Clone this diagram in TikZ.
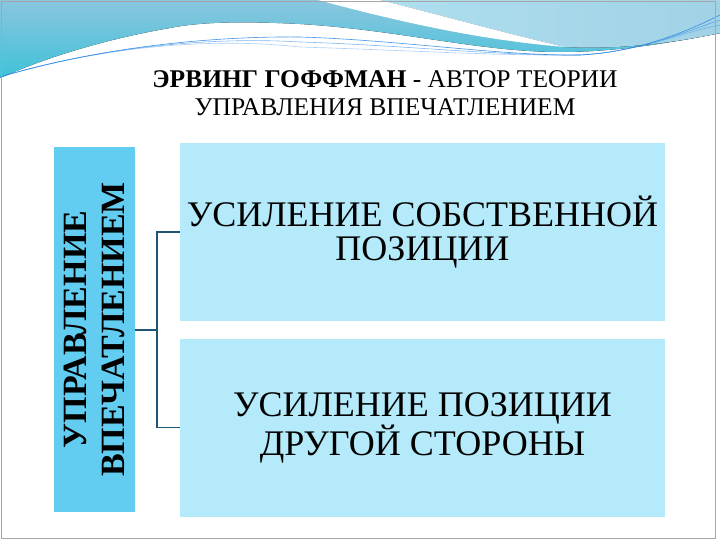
\documentclass[tikz,border=0pt]{standalone}
\usepackage{fontspec}
\setmainfont{Liberation Serif}
\usepackage{tikz}

\definecolor{waveblue}{HTML}{8AC6DF}
\definecolor{wavelight}{HTML}{AEDFEF}
\definecolor{waveteal}{HTML}{3FC2D8}
\definecolor{leftblue}{HTML}{62CDF1}
\definecolor{boxblue}{HTML}{B4EAFA}
\definecolor{linkcol}{HTML}{1F5675}

\tikzset{
    mainbox/.style={fill=boxblue, minimum width=485pt, minimum height=178pt,
        align=center, inner sep=0pt, font=\fontsize{36}{34}\selectfont},
    sidebox/.style={fill=leftblue, minimum width=81pt, minimum height=365pt,
        inner sep=0pt},
    link/.style={draw=linkcol, line width=1.3pt}
}

\begin{document}
\begin{tikzpicture}[x=1pt,y=-1pt]

            \useasboundingbox (0,0) rectangle (720,540);

            % Header waves
            \fill[top color=waveblue, bottom color=waveteal]
                (0,0) -- (720,0) -- (720,33)
                .. controls (660,45) and (610,52) .. (560,52)
                .. controls (480,52) and (400,30) .. (300,24)
                .. controls (240,21) and (200,22) .. (170,28)
                .. controls (100,40) and (40,60) .. (0,78) -- cycle;
            \fill[left color=wavelight, right color=waveblue!80]
                (380,0) -- (720,0) -- (720,33)
                .. controls (680,42) and (620,50) .. (565,47)
                .. controls (500,32) and (440,15) .. (380,0) -- cycle;
            \fill[white]
                (318,0) -- (380,0)
                .. controls (440,15) and (500,32) .. (565,47)
                .. controls (480,40) and (400,22) .. (318,0) -- cycle;
            \foreach \dy/\op in {0/0.9, 5/0.6, 10/0.4} {
                \draw[waveteal!70!blue, line width=0.6pt, opacity=\op]
                    (0,77) .. controls (90,50) and (200,36) .. (300,37+\dy)
                    .. controls (400,40+\dy) and (500,56) .. (580,55)
                    .. controls (640,52) and (690,30) .. (720,15+\dy);
            }

            % Slide frame
            \draw[gray!70, line width=0.8pt] (1,1) rectangle (715,538);

            % Title
            \node[align=center, font=\fontsize{25.5}{28}\selectfont] (title) at (385,93)
                {\textbf{ЭРВИНГ ГОФФМАН} - АВТОР ТЕОРИИ\\УПРАВЛЕНИЯ ВПЕЧАТЛЕНИЕМ};

            % Boxes
            \node[sidebox] (impress) at (94.5,329.5) {};
            \node[rotate=90, align=center, font=\fontsize{34}{38}\bfseries\selectfont]
                (impresstext) at (impress.center) {УПРАВЛЕНИЕ\\ВПЕЧАТЛЕНИЕМ};
            \node[mainbox] (own) at (422.5,232) {УСИЛЕНИЕ СОБСТВЕННОЙ\\ПОЗИЦИИ};
            \node[mainbox] (other) at (422.5,427.5) {УСИЛЕНИЕ ПОЗИЦИИ\\ДРУГОЙ СТОРОНЫ};

            % Connectors
            \coordinate (bus) at (157,330);
            \draw[link] (impress.east |- bus) -- (bus) |- (own.west);
            \draw[link] (bus) |- (other.west);

\end{tikzpicture}
\end{document}
